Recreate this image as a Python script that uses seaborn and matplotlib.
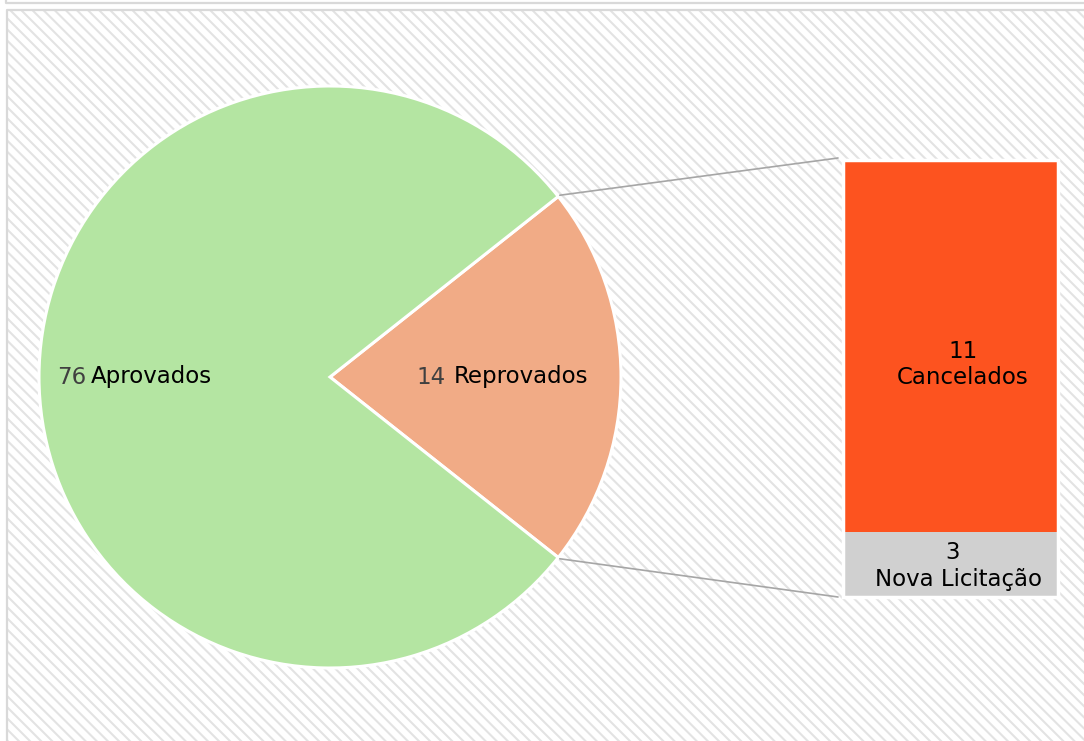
import numpy as np
import pandas as pd
import matplotlib
matplotlib.use("Agg")
import matplotlib.pyplot as plt
from matplotlib.patches import Rectangle
import seaborn as sns

# valores mostrados nos rótulos
pie_names = ['Reprovados', 'Aprovados']
pie_labels = [14, 76]
bar_names = ['Cancelados', 'Nova Licitação']
bar_labels = [11, 3]

# proporções desenhadas
pie_share = [21.3, 78.7]      # % da pizza
bar_share = [85.1, 14.9]      # % da barra (Cancelados, Nova Licitação)

pie_colors = ['#f1ab86', '#b4e5a2']
bar_colors = ['#fd531f', '#d0d0d0']

sns.set_theme(style='white')
plt.rcParams['font.family'] = ['DejaVu Sans']
plt.rcParams['hatch.linewidth'] = 1.5

W, H = 1084, 741
fig = plt.figure(figsize=(W / 100, H / 100), dpi=100)
fig.patch.set_facecolor('white')

ax = fig.add_axes([0, 0, 1, 1])
ax.set_axis_off()

# fundo hachurado + moldura
ax.add_patch(Rectangle((7, 0), W - 7, H - 10, facecolor='white',
                       edgecolor='#e3e3e3', hatch='\\\\\\', linewidth=0, zorder=0))
ax.plot([7, 7, W], [0, H - 10, H - 10], color='#d9d9d9', lw=1.6, zorder=1)
ax.plot([6, 6, W], [H, H - 3, H - 3], color='#d9d9d9', lw=1.6, zorder=1)

# pizza
cx, cy, r = 330, H - 377, 291
half = 360 * pie_share[0] / sum(pie_share) / 2
ax.pie(pie_share, colors=pie_colors, startangle=-half, center=(cx, cy), radius=r,
       counterclock=True, frame=True,
       wedgeprops=dict(edgecolor='white', linewidth=2.2))
ax.set_xlim(0, W)
ax.set_ylim(0, H)
ax.set_aspect('auto')
ax.set_axis_off()

# rótulos da pizza
fs = 16.5
ax.text(57, cy, str(pie_labels[1]), color='#404040', fontsize=fs, va='center', ha='left')
ax.text(91, cy, pie_names[1], color='black', fontsize=fs, va='center', ha='left')
ax.text(416, cy, str(pie_labels[0]), color='#404040', fontsize=fs, va='center', ha='left')
ax.text(454, cy, pie_names[0], color='black', fontsize=fs, va='center', ha='left')

# barra empilhada
bx0, bx1, by_top, by_bot = 843, 1058, 160, 597
axb = fig.add_axes([bx0 / W, (H - by_bot) / H, (bx1 - bx0) / W, (by_bot - by_top) / H])
total = sum(bar_share)
df_total = pd.DataFrame({'grupo': ['Outros'], 'valor': [total]})
df_nova = pd.DataFrame({'grupo': ['Outros'], 'valor': [bar_share[1]]})
sns.barplot(data=df_total, x='grupo', y='valor', color=bar_colors[0], saturation=1,
            width=1, linewidth=0, ax=axb)
sns.barplot(data=df_nova, x='grupo', y='valor', color=bar_colors[1], saturation=1,
            width=1, linewidth=0, ax=axb)
axb.set_xlim(-0.5, 0.5)
axb.set_ylim(0, total)
axb.set_axis_off()
axb.add_patch(Rectangle((0, 0), 1, 1, transform=axb.transAxes, facecolor='none',
                        edgecolor='white', linewidth=2.5, clip_on=False))

axb.text(0.558, 0.561, str(bar_labels[0]), transform=axb.transAxes, fontsize=fs,
         ha='center', va='center', color='black')
axb.text(0.558, 0.503, bar_names[0], transform=axb.transAxes, fontsize=fs,
         ha='center', va='center', color='black')
axb.text(0.51, 0.101, str(bar_labels[1]), transform=axb.transAxes, fontsize=fs,
         ha='center', va='center', color='black')
axb.text(0.535, 0.039, bar_names[1], transform=axb.transAxes, fontsize=fs,
         ha='center', va='center', color='black')

# linhas de ligação
t = np.deg2rad(half)
tip = (cx + (r + 2) * np.cos(t), (r + 2) * np.sin(t))
ax.plot([tip[0], bx0 - 5], [cy + tip[1], H - by_top + 2], color='#a6a6a6', lw=1.2, zorder=1)
ax.plot([tip[0], bx0 - 5], [cy - tip[1], H - by_bot], color='#a6a6a6', lw=1.2, zorder=1)

fig.savefig('out.png', dpi=100, facecolor='white')
